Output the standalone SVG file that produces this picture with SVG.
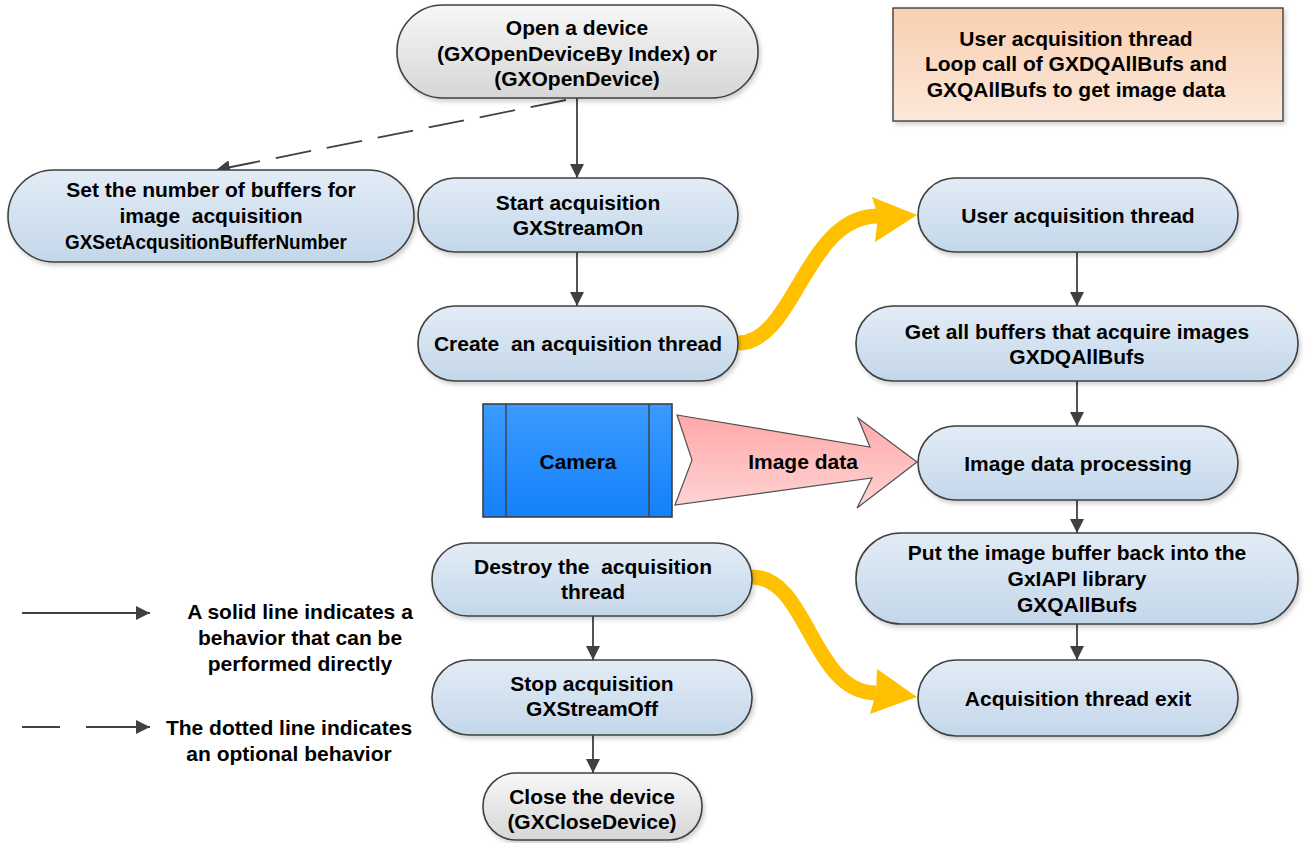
<svg xmlns="http://www.w3.org/2000/svg" width="1305" height="843" viewBox="0 0 1305 843">
<defs>
<linearGradient id="gBlue" x1="0" y1="0" x2="0" y2="1"><stop offset="0" stop-color="#E3ECF6"/><stop offset="1" stop-color="#C3D7EA"/></linearGradient>
<linearGradient id="gGray" x1="0" y1="0" x2="0" y2="1"><stop offset="0" stop-color="#F7F7F7"/><stop offset="1" stop-color="#D6D6D6"/></linearGradient>
<linearGradient id="gOrange" x1="0" y1="0" x2="0" y2="1"><stop offset="0" stop-color="#F8CFB0"/><stop offset="1" stop-color="#FCE8DA"/></linearGradient>
<linearGradient id="gCam" x1="0" y1="0" x2="0" y2="1"><stop offset="0" stop-color="#3A9BFF"/><stop offset="1" stop-color="#1580FA"/></linearGradient>
<linearGradient id="gPink" x1="0" y1="0" x2="0" y2="1"><stop offset="0" stop-color="#FFA8A8"/><stop offset="1" stop-color="#FFD4D4"/></linearGradient>
<filter id="sh" x="-10%" y="-10%" width="120%" height="130%"><feDropShadow dx="2" dy="3" stdDeviation="2" flood-color="#000" flood-opacity="0.18"/></filter>
<marker id="ah" viewBox="0 0 10 10" refX="10" refY="5" markerWidth="14" markerHeight="14" markerUnits="userSpaceOnUse" orient="auto"><path d="M0,0 L10,5 L0,10 Z" fill="#404040"/></marker>
</defs>
<style>
.n{fill:url(#gBlue);stroke:#404040;stroke-width:1.6;filter:url(#sh)}
.g{fill:url(#gGray);stroke:#404040;stroke-width:1.6;filter:url(#sh)}
text{font-family:"Liberation Sans",Arial,sans-serif;font-weight:bold;font-size:21px;fill:#000;text-anchor:middle}
.c{fill:none;stroke:#404040;stroke-width:1.8}
.y{fill:none;stroke:#FFC000;stroke-width:15}
</style>
<g id="connectors">
<line class="c" x1="577" y1="98" x2="577" y2="178" marker-end="url(#ah)"/>
<line class="c" x1="566" y1="100" x2="216" y2="170" stroke-dasharray="36 16" marker-end="url(#ah)"/>
<line class="c" x1="577" y1="252" x2="577" y2="306" marker-end="url(#ah)"/>
<line class="c" x1="1077" y1="252" x2="1077" y2="306" marker-end="url(#ah)"/>
<line class="c" x1="1077" y1="381" x2="1077" y2="426" marker-end="url(#ah)"/>
<line class="c" x1="1077" y1="500" x2="1077" y2="533" marker-end="url(#ah)"/>
<line class="c" x1="1077" y1="624" x2="1077" y2="660" marker-end="url(#ah)"/>
<line class="c" x1="593" y1="616" x2="593" y2="660" marker-end="url(#ah)"/>
<line class="c" x1="593" y1="735" x2="593" y2="773" marker-end="url(#ah)"/>
<path class="y" d="M738,343 C795,343 805,216 878,216"/>
<polygon points="872,197 917,215 875,242 878,216" fill="#FFC000"/>
<path class="y" d="M752,577 C808,577 812,693 876,693"/>
<polygon points="877,669 917,697 870,714 876,693" fill="#FFC000"/>
<polygon points="677,415 870,447 858,418 917,462 857,508 872,478 675,505 692,460" fill="url(#gPink)" stroke="#505050" stroke-width="1.2"/>
<text x="803" y="469">Image data</text>
</g>
<g id="open"><rect class="g" x="397" y="5" width="361" height="93" rx="46"/><text x="577" y="35">Open a device</text><text x="577" y="61">(GXOpenDeviceBy Index) or</text><text x="577" y="86">(GXOpenDevice)</text></g>
<g id="setbuf"><rect class="n" x="8" y="170" width="406" height="92" rx="46"/><text x="211" y="197">Set the number of buffers for</text><text x="211" y="223" xml:space="preserve">image  acquisition</text><text x="206" y="249" textLength="282" lengthAdjust="spacingAndGlyphs">GXSetAcqusitionBufferNumber</text></g>
<g id="start"><rect class="n" x="418" y="178" width="320" height="74" rx="37"/><text x="578" y="210">Start acquisition</text><text x="578" y="235">GXStreamOn</text></g>
<g id="create"><rect class="n" x="418" y="306" width="320" height="75" rx="37"/><text x="578" y="351" xml:space="preserve">Create  an acquisition thread</text></g>
<g id="camera"><rect x="483" y="404" width="189" height="113" fill="url(#gCam)" stroke="#404040" stroke-width="1.6"/><line x1="506" y1="404" x2="506" y2="517" stroke="#404040" stroke-width="1.4"/><line x1="649" y1="404" x2="649" y2="517" stroke="#404040" stroke-width="1.4"/><text x="578" y="469">Camera</text></g>
<g id="destroy"><rect class="n" x="432" y="543" width="320" height="73" rx="36"/><text x="593" y="574" xml:space="preserve">Destroy the  acquisition</text><text x="593" y="599">thread</text></g>
<g id="stop"><rect class="n" x="432" y="660" width="320" height="75" rx="37"/><text x="592" y="691">Stop acquisition</text><text x="592" y="716">GXStreamOff</text></g>
<g id="close"><rect class="g" x="483" y="773" width="219" height="67" rx="33"/><text x="592" y="804">Close the device</text><text x="592" y="829">(GXCloseDevice)</text></g>
<g id="userthread"><rect class="n" x="918" y="178" width="320" height="74" rx="37"/><text x="1078" y="223">User acquisition thread</text></g>
<g id="getall"><rect class="n" x="856" y="306" width="442" height="75" rx="37"/><text x="1077" y="339">Get all buffers that acquire images</text><text x="1077" y="364">GXDQAllBufs</text></g>
<g id="process"><rect class="n" x="918" y="426" width="320" height="74" rx="37"/><text x="1078" y="471">Image data processing</text></g>
<g id="putback"><rect class="n" x="856" y="533" width="442" height="91" rx="45"/><text x="1077" y="560">Put the image buffer back into the</text><text x="1077" y="586">GxIAPI library</text><text x="1077" y="612">GXQAllBufs</text></g>
<g id="exit"><rect class="n" x="918" y="660" width="320" height="76" rx="38"/><text x="1078" y="706">Acquisition thread exit</text></g>
<g id="note"><rect x="893" y="8" width="390" height="113" fill="url(#gOrange)" stroke="#404040" stroke-width="1.4" filter="url(#sh)"/><text x="1076" y="46">User acquisition thread</text><text x="1076" y="71">Loop call of GXDQAllBufs and</text><text x="1076" y="97">GXQAllBufs to get image data</text></g>
<g id="legend">
<line class="c" x1="22" y1="613" x2="150" y2="613" marker-end="url(#ah)"/>
<text x="300" y="619">A solid line indicates a</text><text x="300" y="645">behavior that can be</text><text x="300" y="671">performed directly</text>
<line class="c" x1="22" y1="727" x2="60" y2="727"/>
<line class="c" x1="86" y1="727" x2="150" y2="727" marker-end="url(#ah)"/>
<text x="289" y="735">The dotted line indicates</text><text x="289" y="761">an optional behavior</text>
</g>
</svg>
